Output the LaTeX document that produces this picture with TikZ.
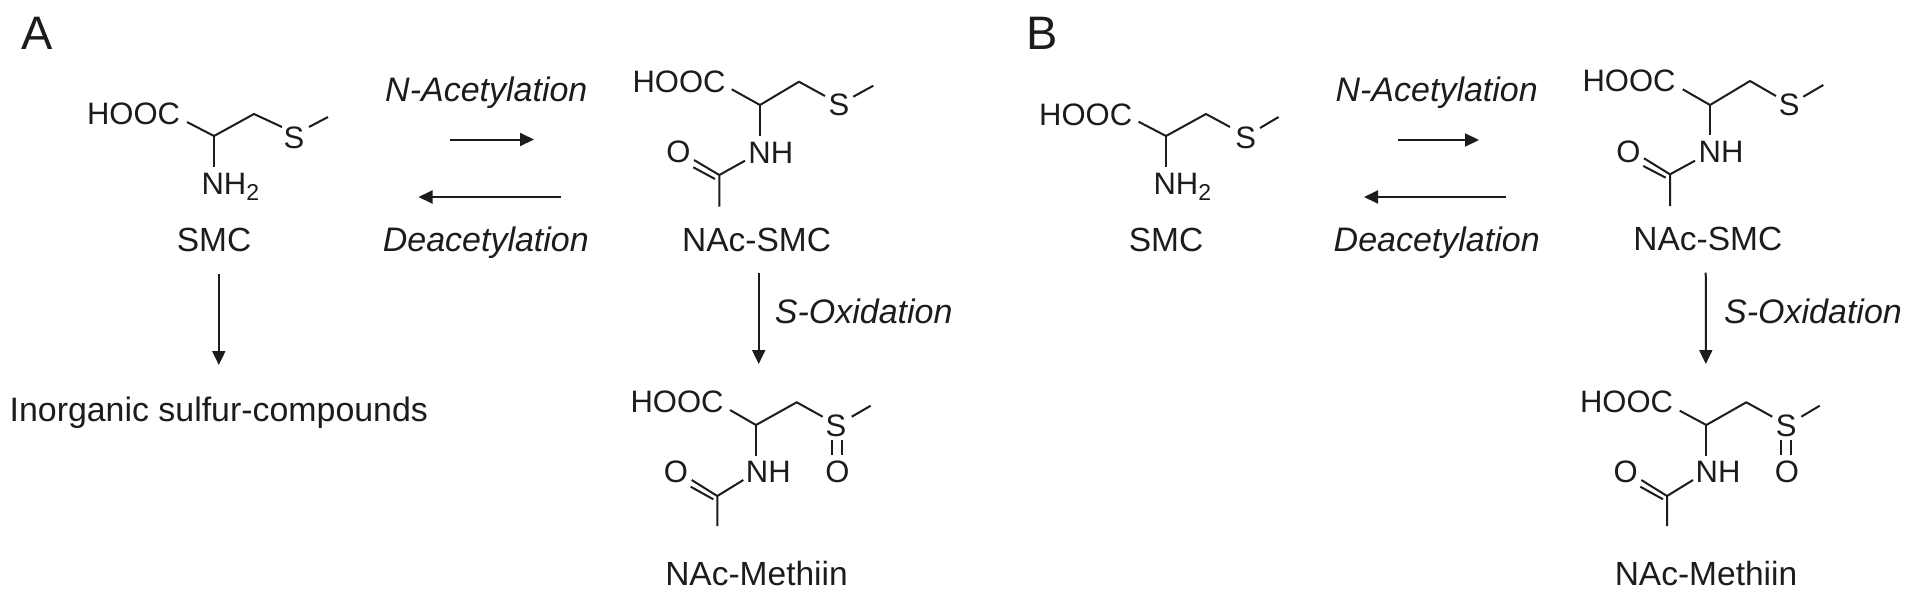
\documentclass[tikz,border=0pt]{standalone}
\usepackage{fontspec}
\setmainfont{Liberation Sans}
\usetikzlibrary{arrows.meta}
\definecolor{ink}{HTML}{1C1C1C}
\tikzset{
  base/.style={inner sep=0pt,outer sep=0pt,text=ink,text depth=0pt,anchor=center},
  atom/.style={base,text height=22.2pt,font=\fontsize{31}{32}\selectfont},
  lab/.style={base,text height=24pt,font=\fontsize{33.5}{34}\selectfont},
  rxn/.style={base,text height=24pt,font=\fontsize{34}{35}\selectfont\itshape},
  panel/.style={base,text height=33.6pt,font=\fontsize{47}{48}\selectfont},
  bond/.style={draw=ink,line width=2pt},
  arr/.style={draw=ink,line width=2pt,-{Triangle[length=14pt,width=13pt]}}
}
\begin{document}
\begin{tikzpicture}[x=1pt,y=-1pt]
\useasboundingbox (0,0) rectangle (1913,598);
\fill[white] (0,0) rectangle (1913,598);

% ---------- Panel A
\node[panel] (Alab) at (37.5,33) {A};
% SMC
\node[atom] (a1hooc) at (133.5,113) {HOOC};
\node[atom] (a1s) at (294,137) {S};
\node[atom,anchor=west] (a1nh) at (201.5,183) {NH\raisebox{-0.22em}{\fontsize{23}{24}\selectfont 2}};
\node[lab] (a1name) at (214,239) {SMC};
\coordinate (a1b) at (187,122);
\coordinate (a1ch) at (214,136);
\coordinate (a1ch2) at (254,114);
\coordinate (a1sl) at (282,127);
\coordinate (a1sr) at (309,127);
\coordinate (a1me) at (328,117);
\coordinate (a1n) at (214,167);
\draw[bond,line join=round] (a1b) -- (a1ch) -- (a1ch2) -- (a1sl);
\draw[bond] (a1sr) -- (a1me);
\draw[bond] (a1ch) -- (a1n);
% labels + arrows
\node[rxn] (aNac) at (486.3,89) {N-Acetylation};
\node[rxn] (aDe) at (485.8,239) {Deacetylation};
\coordinate (aT1) at (450,139.5);
\coordinate (aT2) at (534,139.5);
\coordinate (aD1) at (560.5,197);
\coordinate (aD2) at (418.5,197);
\draw[arr] (aT1) -- (aT2);
\draw[arr] (aD1) -- (aD2);
\node[base,text height=24pt,font=\fontsize{33.9}{35}\selectfont] (aInorg) at (218.8,409) {Inorganic sulfur-compounds};
\draw[arr,shorten <=23pt,shorten >=32pt] (a1name.south -| aInorg.north) -- (aInorg.north);
% NAc-SMC
\node[atom] (a2hooc) at (679,81.5) {HOOC};
\node[atom] (a2s) at (839,104) {S};
\node[atom] (a2nh) at (770.8,152.3) {NH};
\node[atom] (a2o) at (678.3,151.7) {O};
\node[lab] (a2name) at (756.5,239) {NAc-SMC};
\coordinate (a2b) at (731.7,89.3);
\coordinate (a2ch) at (760,105);
\coordinate (a2ch2) at (799,81.7);
\coordinate (a2sl) at (825,96);
\coordinate (a2sr) at (853.3,96.7);
\coordinate (a2me) at (873.3,85.7);
\coordinate (a2n) at (760,136);
\coordinate (a2nr) at (745,160.7);
\coordinate (a2c) at (719.3,175);
\coordinate (a2cm) at (719.3,206.7);
\coordinate (a2o1) at (694,160);
\coordinate (a2o2) at (693.3,167.3);
\coordinate (a2c2) at (715,179);
\draw[bond,line join=round] (a2b) -- (a2ch) -- (a2ch2) -- (a2sl);
\draw[bond] (a2sr) -- (a2me);
\draw[bond] (a2ch) -- (a2n);
\draw[bond,line join=round] (a2nr) -- (a2c) -- (a2cm);
\draw[bond] (a2c) -- (a2o1);
\draw[bond] (a2c2) -- (a2o2);
% S-oxidation
\node[rxn] (aOx) at (863.7,311.7) {S-Oxidation};
\node[lab] (a3name) at (756.5,573) {NAc-Methiin};
\draw[arr,shorten <=22pt,shorten >=197pt] ([xshift=2.2pt]a2name.south) -- ([xshift=2.2pt]a3name.north);
% NAc-Methiin
\node[atom] (a3hooc) at (677,401.7) {HOOC};
\node[atom] (a3s) at (836,425.7) {S};
\node[atom] (a3nh) at (768.3,471.7) {NH};
\node[atom] (a3o) at (676,471.7) {O};
\node[atom] (a3so) at (837.3,471.7) {O};
\coordinate (a3b) at (730,410);
\coordinate (a3ch) at (756,425);
\coordinate (a3ch2) at (796.7,402.3);
\coordinate (a3sl) at (822.7,416.7);
\coordinate (a3sr) at (851.7,416.7);
\coordinate (a3me) at (870.7,405.7);
\coordinate (a3n) at (756,456);
\coordinate (a3nr) at (743.3,480);
\coordinate (a3c) at (717.3,496);
\coordinate (a3cm) at (717.3,526);
\coordinate (a3o1) at (691.7,480);
\coordinate (a3o2) at (690.7,486.7);
\coordinate (a3c2) at (713.3,499.3);
\draw[bond,line join=round] (a3b) -- (a3ch) -- (a3ch2) -- (a3sl);
\draw[bond] (a3sr) -- (a3me);
\draw[bond] (a3ch) -- (a3n);
\draw[bond,line join=round] (a3nr) -- (a3c) -- (a3cm);
\draw[bond] (a3c) -- (a3o1);
\draw[bond] (a3c2) -- (a3o2);
\coordinate (a3d1) at (832,440); \coordinate (a3d2) at (832,455);
\coordinate (a3d3) at (842,440); \coordinate (a3d4) at (842,455);
\draw[bond] (a3d1) -- (a3d2);
\draw[bond] (a3d3) -- (a3d4);

% ---------- Panel B
\node[panel] (Blab) at (1042.5,33) {B};
% SMC
\node[atom] (b1hooc) at (1085.7,114) {HOOC};
\node[atom] (b1s) at (1245.7,137) {S};
\node[atom,anchor=west] (b1nh) at (1153.5,183) {NH\raisebox{-0.22em}{\fontsize{23}{24}\selectfont 2}};
\node[lab] (b1name) at (1166,239) {SMC};
\coordinate (b1b) at (1138.6,121.7);
\coordinate (b1ch) at (1166,136);
\coordinate (b1ch2) at (1206,114);
\coordinate (b1sl) at (1230,127);
\coordinate (b1sr) at (1260,128);
\coordinate (b1me) at (1278.6,117);
\coordinate (b1n) at (1166,167);
\draw[bond,line join=round] (b1b) -- (b1ch) -- (b1ch2) -- (b1sl);
\draw[bond] (b1sr) -- (b1me);
\draw[bond] (b1ch) -- (b1n);
% labels + arrows
\node[rxn] (bNac) at (1436.7,89) {N-Acetylation};
\node[rxn] (bDe) at (1436.7,239) {Deacetylation};
\coordinate (bT1) at (1398,140);
\coordinate (bT2) at (1479,140);
\coordinate (bD1) at (1506,197);
\coordinate (bD2) at (1364,197);
\draw[arr] (bT1) -- (bT2);
\draw[arr] (bD1) -- (bD2);
% NAc-SMC
\node[atom] (b2hooc) at (1629,80.5) {HOOC};
\node[atom] (b2s) at (1789.3,104) {S};
\node[atom] (b2nh) at (1721,151) {NH};
\node[atom] (b2o) at (1628.3,151) {O};
\node[lab] (b2name) at (1707.8,238.5) {NAc-SMC};
\coordinate (b2b) at (1682.7,89.3);
\coordinate (b2ch) at (1710,105);
\coordinate (b2ch2) at (1750,81);
\coordinate (b2sl) at (1776,96);
\coordinate (b2sr) at (1803.3,96.7);
\coordinate (b2me) at (1823.3,85);
\coordinate (b2n) at (1710,135);
\coordinate (b2nr) at (1695,160.7);
\coordinate (b2c) at (1670,174.3);
\coordinate (b2cm) at (1670,206);
\coordinate (b2o1) at (1644,158.3);
\coordinate (b2o2) at (1643.3,166);
\coordinate (b2c2) at (1665.7,177.7);
\draw[bond,line join=round] (b2b) -- (b2ch) -- (b2ch2) -- (b2sl);
\draw[bond] (b2sr) -- (b2me);
\draw[bond] (b2ch) -- (b2n);
\draw[bond,line join=round] (b2nr) -- (b2c) -- (b2cm);
\draw[bond] (b2c) -- (b2o1);
\draw[bond] (b2c2) -- (b2o2);
% S-oxidation
\node[rxn] (bOx) at (1813,311.7) {S-Oxidation};
\node[lab] (b3name) at (1706,573) {NAc-Methiin};
\draw[arr,shorten <=22pt,shorten >=197pt] ([xshift=-2.1pt]b2name.south) -- (b3name.north);
% NAc-Methiin
\node[atom] (b3hooc) at (1626.5,401.7) {HOOC};
\node[atom] (b3s) at (1786.3,425.7) {S};
\node[atom] (b3nh) at (1718,471.7) {NH};
\node[atom] (b3o) at (1625.7,471.7) {O};
\node[atom] (b3so) at (1787,471.7) {O};
\coordinate (b3b) at (1679.7,410.7);
\coordinate (b3ch) at (1706.3,425);
\coordinate (b3ch2) at (1746.3,402.3);
\coordinate (b3sl) at (1772.3,416.7);
\coordinate (b3sr) at (1801.3,416.7);
\coordinate (b3me) at (1819.7,405.7);
\coordinate (b3n) at (1706.3,456);
\coordinate (b3nr) at (1693,480);
\coordinate (b3c) at (1667,496);
\coordinate (b3cm) at (1667,526);
\coordinate (b3o1) at (1641.3,480);
\coordinate (b3o2) at (1640.3,486.7);
\coordinate (b3c2) at (1663,499.3);
\draw[bond,line join=round] (b3b) -- (b3ch) -- (b3ch2) -- (b3sl);
\draw[bond] (b3sr) -- (b3me);
\draw[bond] (b3ch) -- (b3n);
\draw[bond,line join=round] (b3nr) -- (b3c) -- (b3cm);
\draw[bond] (b3c) -- (b3o1);
\draw[bond] (b3c2) -- (b3o2);
\coordinate (b3d1) at (1781.3,440); \coordinate (b3d2) at (1781.3,455);
\coordinate (b3d3) at (1791.3,440); \coordinate (b3d4) at (1791.3,455);
\draw[bond] (b3d1) -- (b3d2);
\draw[bond] (b3d3) -- (b3d4);
\end{tikzpicture}
\end{document}
